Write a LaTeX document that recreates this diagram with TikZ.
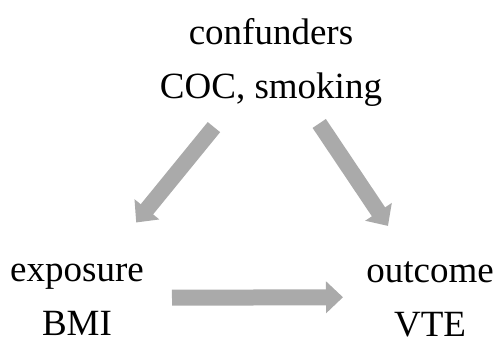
\documentclass[tikz,border=0pt]{standalone}
\usepackage{fontspec}
\setmainfont{Liberation Serif}
\usepackage{tikz}
\usetikzlibrary{arrows.meta}

\definecolor{arrowgray}{HTML}{AAAAAA}
\tikzset{
    lbl/.style={align=center, inner sep=0pt, font=\fontsize{37}{54}\selectfont},
    fat/.style={draw=arrowgray, line width=16pt, -{Triangle[width=31pt, length=17pt]}}
}

\begin{document}
\begin{tikzpicture}[x=1pt, y=-1pt]
        \useasboundingbox (0,0) rectangle (499,340);
        \node [lbl] (conf) at (271,62) {confunders\\COC, smoking};
        \node [lbl] (expo) at (77,300) {exposure\\BMI};
        \node [lbl] (outc) at (430,299) {outcome\\VTE};
        \draw [fat, shorten <=84pt, shorten >=100pt] ([xshift=-4pt]conf.center) -- ([xshift=-4pt]expo.center);
        \draw [fat, shorten <=74pt, shorten >=88pt] ([xshift=7pt]conf.center) -- ([xshift=7pt]outc.center);
        \draw [fat, shorten <=95pt, shorten >=87pt] ([yshift=2pt]expo.center) -- ([yshift=2pt]outc.center);
    \end{tikzpicture}
\end{document}
